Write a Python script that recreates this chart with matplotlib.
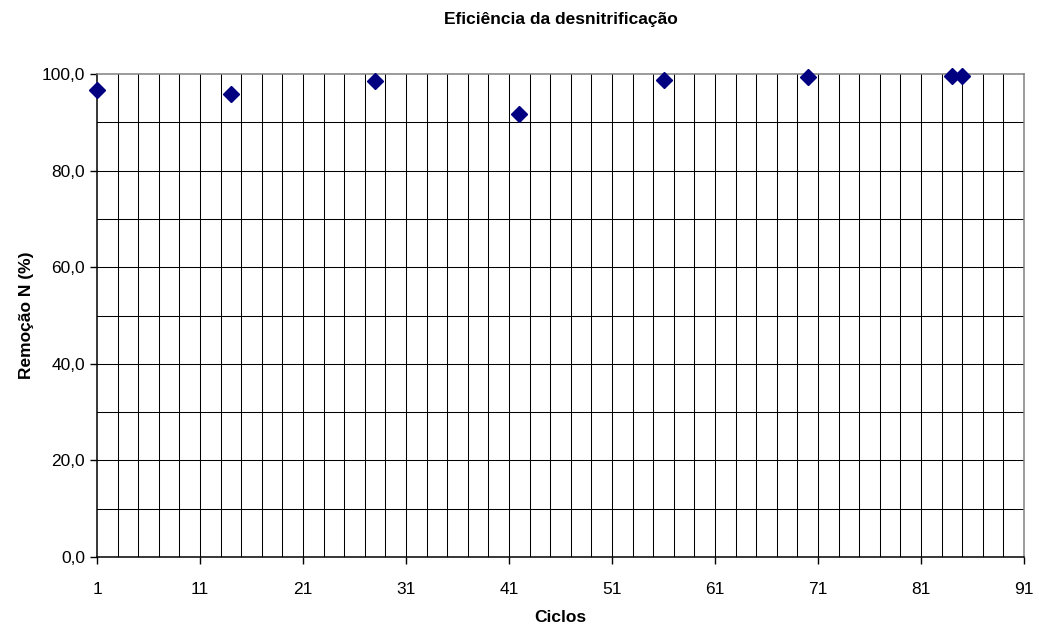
import matplotlib
matplotlib.use("Agg")
import matplotlib.pyplot as plt
import numpy as np

# dados
ciclos = [1, 14, 28, 42, 56, 70, 84, 85]
remocao = [96.6, 95.8, 98.5, 91.7, 98.8, 99.4, 99.6, 99.6]

x_ticks = list(range(1, 92, 10))
y_ticks = list(range(0, 101, 20))

plt.rcParams['font.family'] = ['Liberation Sans', 'DejaVu Sans']

fig = plt.figure(figsize=(10.39, 6.26), dpi=100)
ax = fig.add_axes([0.0934, 0.110, 0.8922, 0.772])

# grade: verticais a cada 2 ciclos, horizontais a cada 10 %
for xv in np.arange(3, 91, 2):
    ax.axvline(xv, color='black', linewidth=0.75, zorder=1)
for yv in np.arange(10, 100, 10):
    ax.axhline(yv, color='black', linewidth=0.75, zorder=1)

ax.plot(ciclos, remocao, linestyle='none', marker='D', markersize=8,
        color='#000080', zorder=3, clip_on=False)

ax.set_xlim(1, 91)
ax.set_ylim(0, 100)
ax.set_xticks(x_ticks)
ax.set_yticks(y_ticks)
ax.set_yticklabels([f"{v:.1f}".replace('.', ',') for v in y_ticks])
ax.tick_params(axis='both', direction='out', length=5, width=1,
               labelsize=12.5, color='black')
ax.tick_params(axis='x', pad=13)

for side in ['left', 'bottom']:
    ax.spines[side].set_color('black')
    ax.spines[side].set_linewidth(1.1)
for side in ['top', 'right']:
    ax.spines[side].set_color('#808080')
    ax.spines[side].set_linewidth(1.1)

ax.set_title('Eficiência da desnitrificação', fontsize=12.5, fontweight='bold', pad=36)
ax.set_xlabel('Ciclos', fontsize=12.5, fontweight='bold', labelpad=9)
ax.set_ylabel('Remoção N (%)', fontsize=12.5, fontweight='bold', labelpad=6)

fig.savefig('out.png', dpi=100)
